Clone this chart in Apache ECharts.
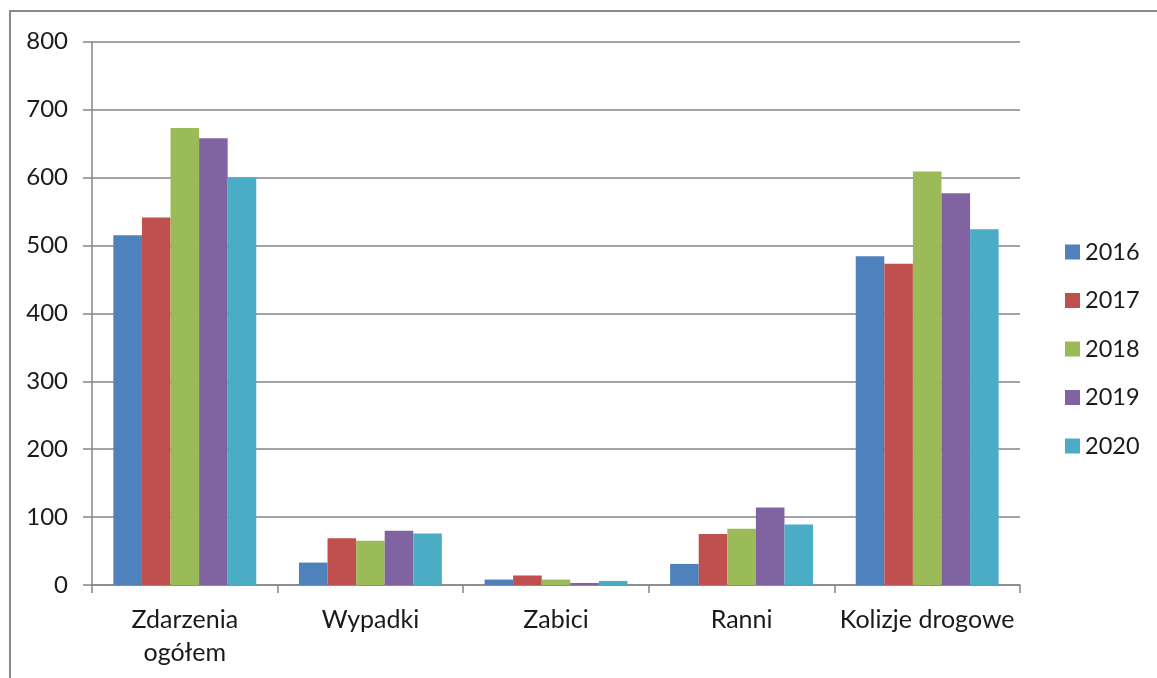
<!DOCTYPE html>
<html>
<head>
<meta charset="utf-8">
<script src="https://cdn.jsdelivr.net/npm/echarts@6/dist/echarts.min.js"></script>
<style>html,body{margin:0;padding:0;background:#fff}#c{width:1157px;height:678px}</style>
</head>
<body>
<div id="c"></div>
<script>
const categories = ['Zdarzenia\nogółem', 'Wypadki', 'Zabici', 'Ranni', 'Kolizje drogowe'];
const years = ['2016', '2017', '2018', '2019', '2020'];
const v2016 = [515, 33, 8, 31, 484];
const v2017 = [541, 69, 14, 75, 473];
const v2018 = [673, 65, 8, 83, 609];
const v2019 = [658, 80, 3, 114, 577];
const v2020 = [600, 76, 6, 89, 524];
const yTicks = [0, 100, 200, 300, 400, 500, 600, 700, 800];
const colors = ['#4F81BD', '#C0504D', '#9BBB59', '#8064A2', '#4BACC6'];
const seriesValues = [v2016, v2017, v2018, v2019, v2020];

const FONT = 'Lato';
const chart = echarts.init(document.getElementById('c'));
chart.setOption({
  animation: false,
  color: colors,
  textStyle: { fontFamily: FONT, color: '#1a1a1a' },
  graphic: [{
    type: 'rect', silent: true, z: -10,
    shape: { x: 10, y: 11, width: 1250, height: 800 },
    style: { fill: 'none', stroke: '#8a8a8a', lineWidth: 2 }
  }],
  grid: { left: 92, right: 137, top: 41.7, bottom: 93, containLabel: false },
  legend: {
    orient: 'vertical', left: 1060, top: 235,
    itemWidth: 15, itemHeight: 15, itemGap: 24.5,
    icon: 'rect',
    textStyle: { fontFamily: FONT, fontSize: 23.5, lineHeight: 24, color: '#1a1a1a', padding: [0, 0, 0, 0] },
    data: years
  },
  xAxis: {
    type: 'category',
    data: categories,
    axisLine: { show: true, lineStyle: { color: '#868686', width: 1.5 } },
    axisTick: { show: true, length: 8, alignWithLabel: false, lineStyle: { color: '#868686', width: 1.5 } },
    axisLabel: { fontFamily: FONT, fontSize: 25, lineHeight: 33, color: '#1a1a1a', margin: 18, interval: 0 }
  },
  yAxis: {
    type: 'value', min: yTicks[0], max: yTicks[yTicks.length - 1], interval: 100,
    axisLine: { show: true, lineStyle: { color: '#868686', width: 1.5 } },
    axisTick: { show: true, length: 9, lineStyle: { color: '#868686', width: 1.5 } },
    splitLine: { show: true, lineStyle: { color: '#868686', width: 1.5 } },
    axisLabel: { fontFamily: FONT, fontSize: 24, color: '#1a1a1a', margin: 24 }
  },
  series: years.map((y, i) => ({
    name: y, type: 'bar', data: seriesValues[i],
    barGap: '0%', barCategoryGap: '23%',
    itemStyle: { color: colors[i] }
  }))
});
</script>
</body>
</html>
